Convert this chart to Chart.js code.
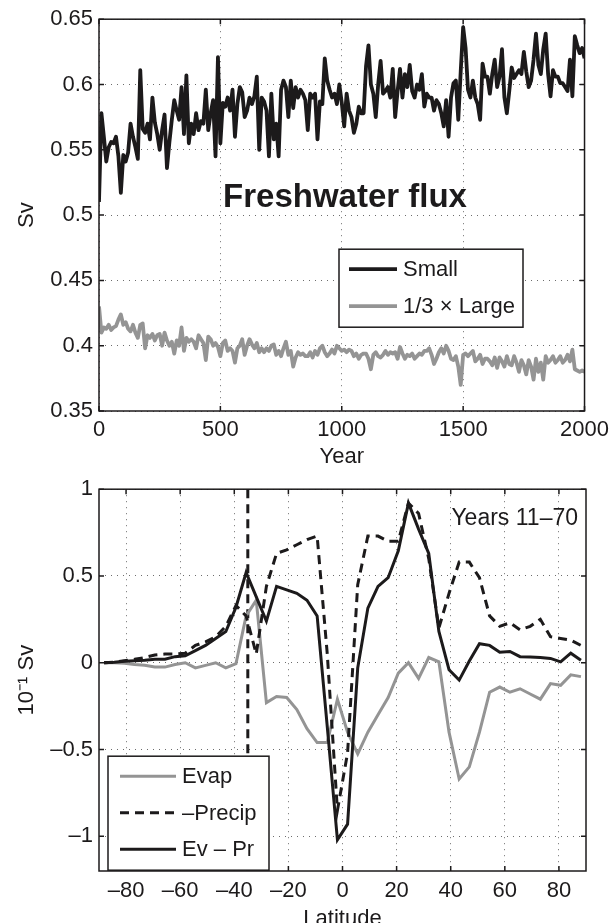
<!DOCTYPE html>
<html>
<head>
<meta charset="utf-8">
<script src="https://cdn.jsdelivr.net/npm/chart.js@4.4.1/dist/chart.umd.min.js"></script>
<style>
  html, body { margin: 0; padding: 0; background: #fff; overflow: hidden; }
  #wrap { position: relative; width: 615px; height: 923px; overflow: hidden; }
  .panel { position: absolute; left: 0; width: 615px; }
  #top-panel { top: 0; height: 470px; }
  #bottom-panel { top: 470px; height: 465px; }
</style>
</head>
<body>
<div id="wrap">
  <div class="panel" id="top-panel"><canvas id="flux-chart" width="615" height="470"></canvas></div>
  <div class="panel" id="bottom-panel"><canvas id="lat-chart" width="615" height="465"></canvas></div>
</div>
<script>
// top panel: freshwater flux (Sv), one value every 10 years from year 0
const yearStep = 10;
const smallFlux = [
  0.510,0.578,0.560,0.541,0.552,0.556,0.555,0.560,0.545,0.517,
  0.546,0.541,0.548,0.570,0.560,0.552,0.543,0.611,0.566,0.563,
  0.570,0.558,0.590,0.571,0.562,0.550,0.565,0.577,0.536,0.556,
  0.573,0.588,0.580,0.573,0.598,0.562,0.607,0.555,0.570,0.562,
  0.578,0.565,0.572,0.570,0.596,0.565,0.578,0.588,0.545,0.621,
  0.555,0.586,0.583,0.590,0.580,0.596,0.560,0.585,0.598,0.594,
  0.575,0.580,0.590,0.585,0.591,0.606,0.550,0.590,0.587,0.580,
  0.545,0.593,0.558,0.570,0.545,0.596,0.603,0.598,0.575,0.603,
  0.582,0.598,0.590,0.596,0.593,0.588,0.565,0.593,0.590,0.593,
  0.558,0.587,0.585,0.620,0.603,0.596,0.590,0.593,0.585,0.600,
  0.586,0.568,0.593,0.580,0.575,0.563,0.570,0.583,0.578,0.578,
  0.614,0.630,0.600,0.593,0.575,0.600,0.618,0.593,0.595,0.598,
  0.590,0.612,0.575,0.595,0.612,0.590,0.608,0.598,0.615,0.595,
  0.590,0.600,0.596,0.608,0.583,0.593,0.590,0.590,0.580,0.588,
  0.585,0.578,0.568,0.588,0.560,0.590,0.601,0.603,0.573,0.610,
  0.644,0.628,0.596,0.590,0.603,0.590,0.585,0.573,0.616,0.606,
  0.606,0.593,0.608,0.619,0.598,0.606,0.627,0.590,0.578,0.595,
  0.613,0.605,0.608,0.611,0.608,0.625,0.610,0.598,0.603,0.619,
  0.639,0.615,0.608,0.627,0.639,0.608,0.591,0.611,0.606,0.606,
  0.601,0.601,0.598,0.595,0.619,0.591,0.637,0.630,0.624,0.628,
  0.620
];
const largeThird = [
  0.430,0.410,0.414,0.413,0.416,0.412,0.414,0.415,0.420,0.424,
  0.416,0.418,0.413,0.411,0.416,0.410,0.406,0.416,0.417,0.398,
  0.408,0.406,0.409,0.404,0.408,0.409,0.400,0.410,0.404,0.400,
  0.403,0.394,0.404,0.400,0.414,0.396,0.406,0.403,0.405,0.403,
  0.398,0.408,0.405,0.402,0.389,0.407,0.405,0.400,0.402,0.399,
  0.392,0.402,0.404,0.396,0.398,0.396,0.387,0.398,0.400,0.405,
  0.393,0.400,0.405,0.401,0.398,0.402,0.395,0.398,0.395,0.398,
  0.396,0.400,0.401,0.393,0.396,0.392,0.398,0.403,0.393,0.396,
  0.384,0.391,0.395,0.393,0.394,0.392,0.392,0.395,0.391,0.396,
  0.393,0.398,0.400,0.395,0.392,0.394,0.397,0.394,0.400,0.398,
  0.396,0.397,0.395,0.397,0.396,0.392,0.394,0.390,0.393,0.394,
  0.394,0.390,0.382,0.393,0.395,0.392,0.391,0.393,0.396,0.393,
  0.395,0.394,0.395,0.390,0.399,0.394,0.390,0.393,0.392,0.394,
  0.390,0.392,0.394,0.393,0.396,0.396,0.398,0.393,0.386,0.390,
  0.395,0.398,0.394,0.400,0.396,0.390,0.389,0.392,0.384,0.370,
  0.393,0.394,0.392,0.394,0.396,0.388,0.390,0.393,0.386,0.390,
  0.390,0.388,0.385,0.391,0.383,0.391,0.388,0.384,0.392,0.386,
  0.385,0.392,0.387,0.380,0.389,0.385,0.378,0.389,0.384,0.374,
  0.390,0.380,0.387,0.374,0.392,0.387,0.389,0.392,0.387,0.389,
  0.392,0.387,0.389,0.393,0.388,0.397,0.382,0.381,0.380,0.381,
  0.380
];
const yearTicks = [0, 500, 1000, 1500, 2000];
const svTicks = [0.35, 0.4, 0.45, 0.5, 0.55, 0.6, 0.65];

// bottom panel: zonal budget, 10^-1 Sv
const latitudes = [
  -88.125,-84.375,-80.625,-76.875,-73.125,-69.375,-65.625,-61.875,-58.125,-54.375,-50.625,-46.875,
  -43.125,-39.375,-35.625,-31.875,-28.125,-24.375,-20.625,-16.875,-13.125,-9.375,-5.625,-1.875,
  1.875,5.625,9.375,13.125,16.875,20.625,24.375,28.125,31.875,35.625,39.375,43.125,
  46.875,50.625,54.375,58.125,61.875,65.625,69.375,73.125,76.875,80.625,84.375,88.125
];
const evap = [
  0, 0, -0.003, -0.01, -0.015, -0.025, -0.025, -0.01, 0, -0.03, -0.015, 0,
  -0.03, -0.005, 0.27, 0.36, -0.23, -0.195, -0.20, -0.27, -0.38, -0.46, -0.46, -0.21,
  -0.40, -0.525, -0.40, -0.30, -0.20, -0.06, 0.0, -0.09, 0.03, 0.005, -0.40, -0.67,
  -0.60, -0.40, -0.17, -0.14, -0.17, -0.15, -0.18, -0.21, -0.12, -0.13, -0.07, -0.08
];
const negPrecip = [
  0, 0.004, 0.012, 0.02, 0.03, 0.045, 0.05, 0.05, 0.055, 0.10, 0.12, 0.15,
  0.21, 0.33, 0.27, 0.05, 0.44, 0.63, 0.65, 0.68, 0.71, 0.73, 0.05, -0.85,
  -0.52, 0.45, 0.73, 0.73, 0.70, 0.70, 0.92, 0.86, 0.60, 0.20, 0.40, 0.58,
  0.58, 0.49, 0.27, 0.21, 0.23, 0.19, 0.21, 0.25, 0.15, 0.14, 0.13, 0.10
];
const evMinusPr = [
  0, 0.003, 0.008, 0.012, 0.015, 0.02, 0.02, 0.035, 0.04, 0.07, 0.10, 0.14,
  0.18, 0.32, 0.52, 0.38, 0.24, 0.44, 0.42, 0.40, 0.36, 0.27, -0.37, -1.02,
  -0.93, -0.03, 0.315, 0.44, 0.49, 0.645, 0.92, 0.77, 0.63, 0.18, -0.04, -0.10,
  0.01, 0.11, 0.10, 0.06, 0.065, 0.035, 0.033, 0.03, 0.025, 0.005, 0.055, 0.015
];
const latTicks = [-80, -60, -40, -20, 0, 20, 40, 60, 80];
const budgetTicks = [-1, -0.5, 0, 0.5, 1];
const frontLat = -35;

const ink = '#1c1a1b';
const grey = '#949494';
const fontFamily = '"Liberation Sans", Arial, Helvetica, sans-serif';

Chart.defaults.font.family = fontFamily;
Chart.defaults.font.size = 22;
Chart.defaults.color = ink;

function fmt(v) {
  const s = String(Math.abs(+v.toFixed(2)));
  return v < 0 ? '\u2013' + s : s;
}

// box around the plot with inward tick marks on all sides
const framePlugin = {
  id: 'frame',
  afterDatasetsDraw(chart) {
    const {ctx, chartArea: a, scales: {x, y}} = chart;
    const len = 5;
    ctx.save();
    ctx.strokeStyle = ink;
    ctx.lineWidth = 1.5;
    ctx.beginPath();
    x.ticks.forEach(t => {
      const px = x.getPixelForValue(t.value);
      ctx.moveTo(px, a.bottom); ctx.lineTo(px, a.bottom - len);
      ctx.moveTo(px, a.top); ctx.lineTo(px, a.top + len);
    });
    y.ticks.forEach(t => {
      const py = y.getPixelForValue(t.value);
      ctx.moveTo(a.left, py); ctx.lineTo(a.left + len, py);
      ctx.moveTo(a.right, py); ctx.lineTo(a.right - len, py);
    });
    ctx.stroke();
    ctx.strokeRect(a.left, a.top, a.right - a.left, a.bottom - a.top);
    ctx.restore();
  }
};

// vertical dashed marker at a given x value
const markerPlugin = {
  id: 'marker',
  beforeDatasetsDraw(chart, args, opts) {
    if (opts.value === undefined) return;
    const {ctx, chartArea: a, scales: {x}} = chart;
    const px = x.getPixelForValue(opts.value);
    ctx.save();
    ctx.strokeStyle = ink;
    ctx.lineWidth = 3;
    ctx.setLineDash([9, 6]);
    ctx.beginPath();
    ctx.moveTo(px, a.top);
    ctx.lineTo(px, a.bottom);
    ctx.stroke();
    ctx.restore();
  }
};

// free text inside the plot area
const notesPlugin = {
  id: 'notes',
  afterDatasetsDraw(chart, args, opts) {
    const {ctx, chartArea: a} = chart;
    (opts.items || []).forEach(n => {
      ctx.save();
      ctx.font = n.font;
      ctx.fillStyle = ink;
      ctx.textAlign = n.align;
      ctx.textBaseline = 'alphabetic';
      const x = n.fromRight ? a.right - n.dx : a.left + n.dx;
      ctx.fillText(n.text, x, a.top + n.dy);
      ctx.restore();
    });
  }
};

// boxed legend drawn from the datasets
const boxLegendPlugin = {
  id: 'boxLegend',
  afterDraw(chart, args, o) {
    if (!o.width) return;
    const {ctx, chartArea: a} = chart;
    const bx = a.left + o.left, by = a.top + o.top;
    ctx.save();
    ctx.fillStyle = '#fff';
    ctx.fillRect(bx, by, o.width, o.height);
    ctx.strokeStyle = ink;
    ctx.lineWidth = 1.5;
    ctx.strokeRect(bx, by, o.width, o.height);
    chart.data.datasets.forEach((ds, i) => {
      const ly = by + o.firstRow + i * o.rowGap;
      ctx.strokeStyle = ds.borderColor;
      ctx.lineWidth = ds.borderWidth;
      ctx.setLineDash(ds.borderDash || []);
      ctx.beginPath();
      ctx.moveTo(bx + o.lineStart, ly);
      ctx.lineTo(bx + o.lineStart + o.lineLength, ly);
      ctx.stroke();
      ctx.setLineDash([]);
      ctx.fillStyle = ink;
      ctx.font = '22px ' + fontFamily;
      ctx.textBaseline = 'middle';
      ctx.textAlign = 'left';
      ctx.fillText(ds.label, bx + o.textStart, ly + 1);
    });
    ctx.restore();
  }
};

const dottedGrid = { color: '#6d6d6d', lineWidth: 1, drawTicks: false };
const dottedBorder = { display: false, dash: [1, 5] };

new Chart(document.getElementById('flux-chart'), {
  type: 'line',
  data: {
    datasets: [
      {
        label: 'Small',
        data: smallFlux.map((v, i) => ({ x: i * yearStep, y: v })),
        borderColor: ink, borderWidth: 3.8, pointRadius: 0, tension: 0,
        borderJoinStyle: 'round', order: 1
      },
      {
        label: '1/3 \u00d7 Large',
        data: largeThird.map((v, i) => ({ x: i * yearStep, y: v })),
        borderColor: grey, borderWidth: 3.8, pointRadius: 0, tension: 0,
        borderJoinStyle: 'round', order: 2
      }
    ]
  },
  options: {
    responsive: false,
    animation: false,
    events: [],
    layout: { padding: { top: 19, right: 27, left: 0, bottom: 0 } },
    plugins: {
      legend: { display: false },
      tooltip: { enabled: false },
      notes: { items: [ { text: 'Freshwater flux', dx: 246, dy: 188, align: 'center', font: 'bold 33px ' + fontFamily } ] },
      boxLegend: { left: 240, top: 230, width: 184, height: 78, firstRow: 20, rowGap: 37, lineStart: 10, lineLength: 48, textStart: 64 }
    },
    scales: {
      x: {
        type: 'linear', min: 0, max: 2000,
        afterBuildTicks: s => { s.ticks = yearTicks.map(v => ({ value: v })); },
        afterFit: s => { s.height = 59; },
        ticks: { padding: 6, maxRotation: 0, callback: v => fmt(v) },
        grid: dottedGrid, border: dottedBorder,
        title: { display: true, text: 'Year', padding: { top: 0, bottom: 0 } }
      },
      y: {
        min: 0.35, max: 0.65,
        afterBuildTicks: s => { s.ticks = svTicks.map(v => ({ value: v })); },
        afterFit: s => { s.width = 99; },
        ticks: { padding: 6, callback: v => fmt(v) },
        grid: dottedGrid, border: dottedBorder,
        title: { display: true, text: 'Sv', padding: { top: 14, bottom: 0 } }
      }
    }
  },
  plugins: [framePlugin, notesPlugin, boxLegendPlugin]
});

new Chart(document.getElementById('lat-chart'), {
  type: 'line',
  data: {
    datasets: [
      {
        label: 'Evap',
        data: evap.map((v, i) => ({ x: latitudes[i], y: v })),
        borderColor: grey, borderWidth: 3, pointRadius: 0, tension: 0, order: 3
      },
      {
        label: '\u2013Precip',
        data: negPrecip.map((v, i) => ({ x: latitudes[i], y: v })),
        borderColor: ink, borderWidth: 3, borderDash: [9, 6], pointRadius: 0, tension: 0, order: 2
      },
      {
        label: 'Ev \u2013 Pr',
        data: evMinusPr.map((v, i) => ({ x: latitudes[i], y: v })),
        borderColor: ink, borderWidth: 3, pointRadius: 0, tension: 0, order: 1
      }
    ]
  },
  options: {
    responsive: false,
    animation: false,
    events: [],
    layout: { padding: { top: 12, right: 29, left: 0, bottom: 0 } },
    plugins: {
      legend: { display: false },
      tooltip: { enabled: false },
      marker: { value: frontLat },
      notes: { items: [ { text: 'Years 11\u201370', dx: 8, dy: 36, align: 'right', fromRight: true, font: '23px ' + fontFamily } ] },
      boxLegend: { left: 9, top: 267, width: 161, height: 114, firstRow: 20, rowGap: 36.5, lineStart: 12, lineLength: 56, textStart: 74 }
    },
    scales: {
      x: {
        type: 'linear', min: -90, max: 90,
        afterBuildTicks: s => { s.ticks = latTicks.map(v => ({ value: v })); },
        afterFit: s => { s.height = 64; },
        ticks: { padding: 7, maxRotation: 0, callback: v => fmt(v) },
        grid: dottedGrid, border: dottedBorder,
        title: { display: true, text: 'Latitude', padding: { top: 0, bottom: 3 } }
      },
      y: {
        min: -1.2, max: 1,
        afterBuildTicks: s => { s.ticks = budgetTicks.map(v => ({ value: v })); },
        afterFit: s => { s.width = 99; },
        ticks: { padding: 6, callback: v => fmt(v) },
        grid: dottedGrid, border: dottedBorder,
        title: { display: true, text: '10\u207b\u00b9 Sv', padding: { top: 14, bottom: 0 } }
      }
    }
  },
  plugins: [markerPlugin, framePlugin, notesPlugin, boxLegendPlugin]
});
</script>
</body>
</html>
